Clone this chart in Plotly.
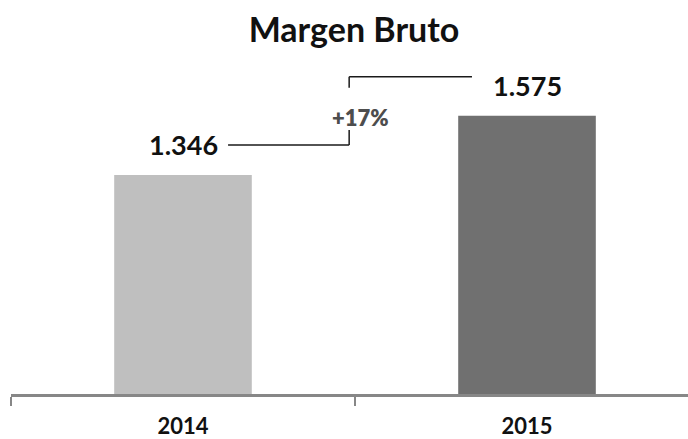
import plotly.graph_objects as go

years = ["2014", "2015"]
values = [1.346, 1.575]
bar_colors = ["#BFBFBF", "#707070"]
value_labels = ["1.346", "1.575"]
title_text = "Margen Bruto"

growth = values[1] / values[0] - 1
growth_label = "+{:.0f}%".format(growth * 100)

FONT = "Lato"

fig = go.Figure()
fig.add_trace(go.Bar(
    x=years, y=values, marker_color=bar_colors, width=0.40,
    marker_line_width=0, hoverinfo="skip", showlegend=False,
))

# value labels above bars
for i, (v, t) in enumerate(zip(values, value_labels)):
    fig.add_annotation(x=i, y=v, text=t, showarrow=False,
                       yshift=30, yanchor="middle", xanchor="center",
                       font=dict(family=FONT, size=27, color="#111111", weight=700))

# connector lines
xm = 0.483
line_style = dict(color="#1a1a1a", width=1.5)
fig.add_shape(type="line", xref="x", yref="y", ysizemode="pixel",
              yanchor=values[0], x0=0.131, x1=xm, y0=30, y1=30, line=line_style)
fig.add_shape(type="line", xref="x", yref="y", ysizemode="pixel",
              yanchor=values[0], x0=xm, x1=xm, y0=30, y1=45, line=line_style)
fig.add_shape(type="line", xref="x", yref="y", ysizemode="pixel",
              yanchor=values[1], x0=xm, x1=xm, y0=28, y1=39, line=line_style)
fig.add_shape(type="line", xref="x", yref="y", ysizemode="pixel",
              yanchor=values[1], x0=xm, x1=0.840, y0=39, y1=39, line=line_style)

fig.add_annotation(x=0.517, y=values[0], text=growth_label,
                   showarrow=False, yshift=57, yanchor="middle", xanchor="center",
                   font=dict(family=FONT, size=22, color="#4d4d4d", weight=800))

fig.update_layout(
    width=688, height=439,
    margin=dict(l=11, r=0, t=60, b=45),
    paper_bgcolor="white", plot_bgcolor="white",
    title=dict(text=title_text, x=354 / 688, xref="container",
               xanchor="center", y=0.932, yref="container", yanchor="middle",
               font=dict(family=FONT, size=34, color="#111111", weight=700)),
    xaxis=dict(
        type="category", range=[-0.5, 1.468],
        tickmode="array", tickvals=years, ticktext=years,
        showgrid=False, zeroline=False, showline=True, linecolor="#878787",
        linewidth=2.5, ticks="outside", tickson="boundaries", ticklen=9,
        tickwidth=2, tickcolor="#878787", ticklabelstandoff=11,
        tickfont=dict(family=FONT, size=22, color="#111111", weight=700),
        fixedrange=True, automargin=False,
    ),
    yaxis=dict(range=[0.5, 1.79], visible=False, fixedrange=True),
    bargap=0.6,
)

fig.write_html("out.html", config={"displayModeBar": False},
               post_script="document.body.style.margin='0px';")
